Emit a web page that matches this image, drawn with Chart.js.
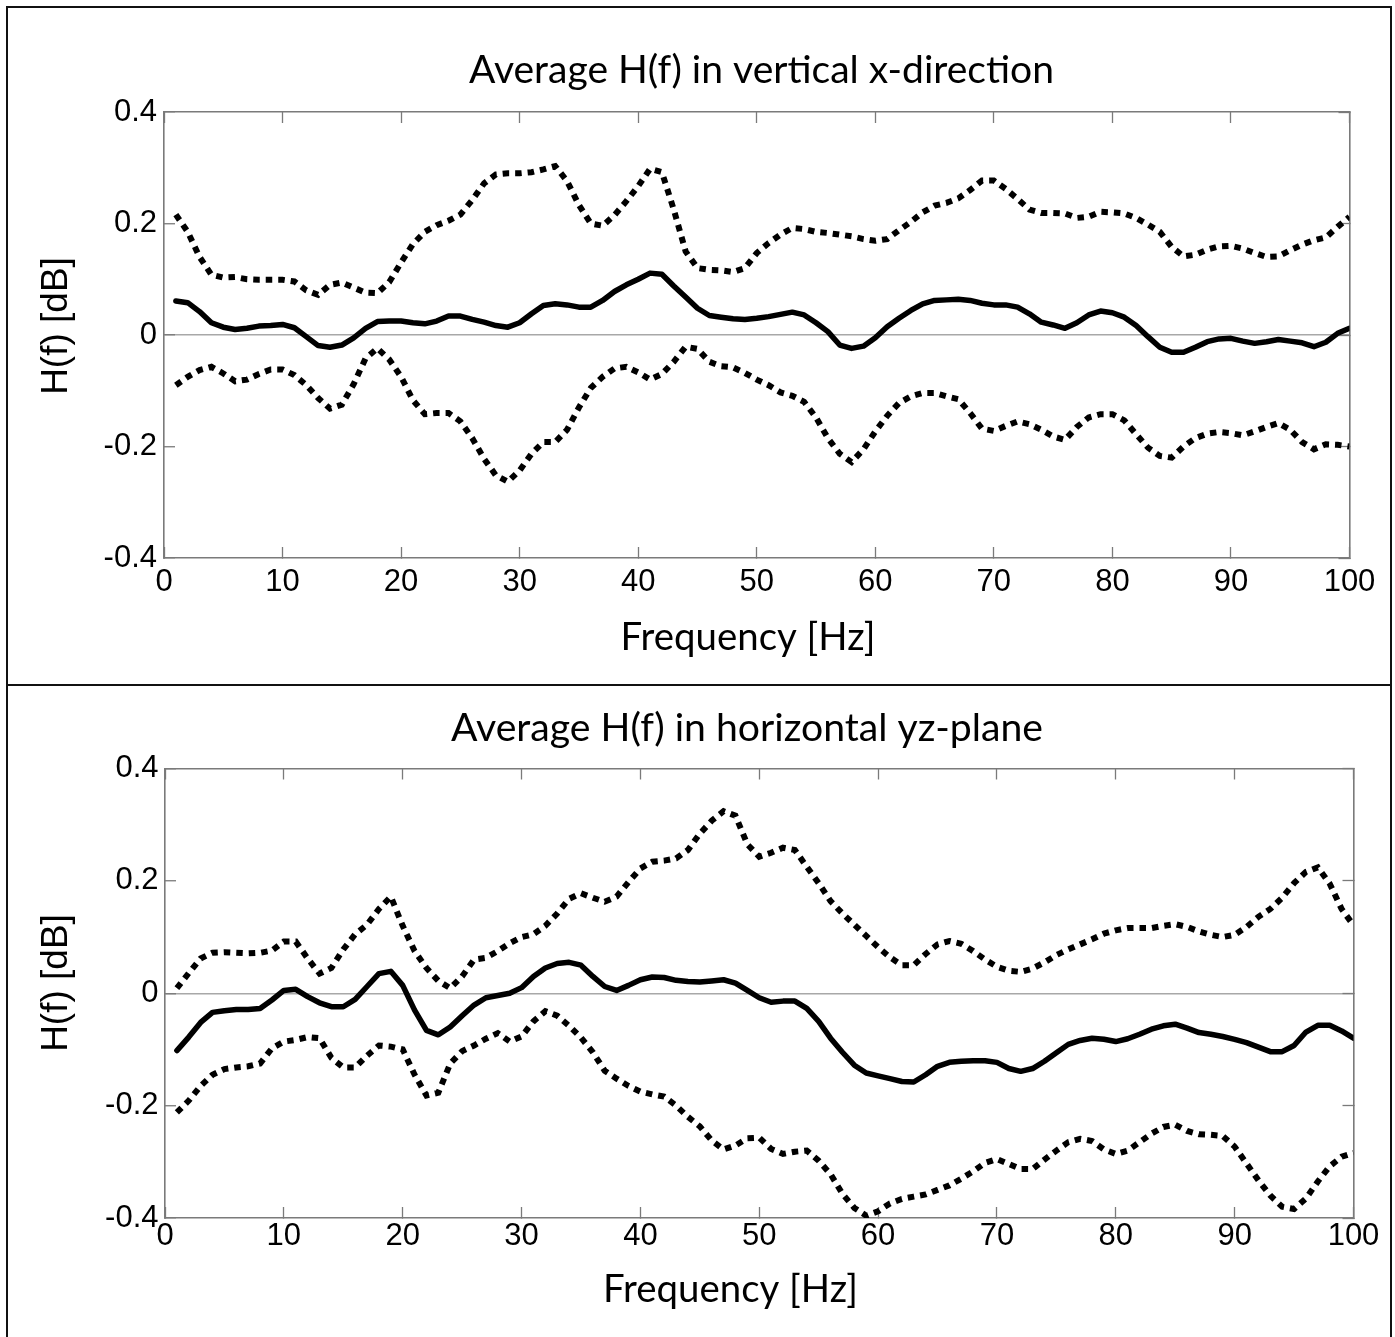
<!DOCTYPE html>
<html><head><meta charset="utf-8">
<script src="https://cdn.jsdelivr.net/npm/chart.js@4.4.1/dist/chart.umd.min.js"></script>
<style>
html,body{margin:0;padding:0;background:#fff;overflow:hidden;}
#wrap{position:relative;width:1395px;height:1337px;overflow:hidden;}
canvas{position:absolute;left:0;}
#c1{top:0}
#c2{top:685px}
.frame{position:absolute;box-sizing:border-box;border:2.5px solid #111;pointer-events:none;}
</style></head><body>
<div id="wrap">
<canvas id="c1" width="1395" height="685"></canvas>
<canvas id="c2" width="1395" height="652"></canvas>
<div class="frame" style="left:6px;top:6px;width:1386px;height:1345px;"></div>
<div style="position:absolute;left:6px;top:683.5px;width:1386px;height:2.5px;background:#111;"></div>
</div>
<script>
// ---------- data ----------
const freq = [1,2,3,4,5,6,7,8,9,10,11,12,13,14,15,16,17,18,19,20,
21,22,23,24,25,26,27,28,29,30,31,32,33,34,35,36,37,38,39,40,
41,42,43,44,45,46,47,48,49,50,51,52,53,54,55,56,57,58,59,60,
61,62,63,64,65,66,67,68,69,70,71,72,73,74,75,76,77,78,79,80,
81,82,83,84,85,86,87,88,89,90,91,92,93,94,95,96,97,98,99,100];

const vertMean = [0.061,0.058,0.042,0.022,0.014,0.010,0.012,0.016,0.017,0.019,
0.013,-0.003,-0.019,-0.022,-0.018,-0.005,0.012,0.024,0.025,0.025,
0.022,0.020,0.025,0.034,0.034,0.028,0.023,0.017,0.014,0.022,
0.038,0.053,0.056,0.054,0.050,0.050,0.062,0.078,0.090,0.100,
0.111,0.109,0.088,0.068,0.048,0.035,0.032,0.029,0.028,0.030,
0.033,0.037,0.041,0.036,0.022,0.006,-0.018,-0.024,-0.020,-0.005,
0.015,0.030,0.044,0.056,0.062,0.063,0.064,0.062,0.057,0.054,
0.054,0.050,0.038,0.023,0.018,0.012,0.022,0.036,0.043,0.040,
0.032,0.017,-0.003,-0.022,-0.031,-0.031,-0.022,-0.012,-0.007,-0.006,
-0.011,-0.015,-0.012,-0.008,-0.011,-0.014,-0.021,-0.013,0.003,0.012];

const vertUpper = [0.216,0.185,0.140,0.108,0.103,0.104,0.100,0.099,0.099,0.099,
0.096,0.080,0.072,0.090,0.094,0.085,0.076,0.075,0.095,0.130,
0.163,0.185,0.197,0.205,0.216,0.242,0.272,0.288,0.290,0.290,
0.292,0.297,0.303,0.276,0.233,0.200,0.196,0.215,0.240,0.267,
0.298,0.292,0.225,0.150,0.120,0.117,0.116,0.113,0.120,0.147,
0.165,0.180,0.192,0.190,0.185,0.183,0.180,0.177,0.172,0.169,
0.172,0.188,0.203,0.220,0.232,0.237,0.245,0.260,0.277,0.277,
0.262,0.244,0.225,0.219,0.219,0.218,0.210,0.212,0.221,0.220,
0.218,0.210,0.198,0.185,0.158,0.141,0.144,0.153,0.159,0.160,
0.155,0.147,0.140,0.141,0.152,0.162,0.170,0.175,0.194,0.212];

const vertLower = [-0.090,-0.075,-0.063,-0.057,-0.069,-0.083,-0.080,-0.070,-0.062,-0.062,
-0.072,-0.090,-0.113,-0.132,-0.125,-0.088,-0.042,-0.024,-0.044,-0.075,
-0.117,-0.142,-0.140,-0.140,-0.155,-0.185,-0.222,-0.252,-0.263,-0.243,
-0.213,-0.192,-0.192,-0.170,-0.130,-0.095,-0.075,-0.060,-0.057,-0.067,
-0.080,-0.070,-0.048,-0.021,-0.025,-0.048,-0.056,-0.058,-0.068,-0.080,
-0.090,-0.103,-0.109,-0.120,-0.148,-0.185,-0.213,-0.228,-0.205,-0.173,
-0.145,-0.122,-0.110,-0.104,-0.104,-0.110,-0.115,-0.140,-0.168,-0.172,
-0.163,-0.155,-0.160,-0.170,-0.182,-0.188,-0.165,-0.148,-0.142,-0.142,
-0.153,-0.178,-0.202,-0.217,-0.220,-0.200,-0.185,-0.177,-0.174,-0.176,
-0.180,-0.173,-0.165,-0.158,-0.170,-0.192,-0.205,-0.196,-0.197,-0.200];

const horzMean = [-0.102,-0.078,-0.052,-0.034,-0.031,-0.029,-0.029,-0.027,-0.012,0.005,
0.007,-0.006,-0.017,-0.024,-0.024,-0.011,0.012,0.035,0.039,0.014,
-0.030,-0.066,-0.074,-0.060,-0.040,-0.021,-0.008,-0.004,0.000,0.010,
0.030,0.045,0.053,0.055,0.050,0.030,0.012,0.005,0.014,0.024,
0.029,0.028,0.023,0.021,0.020,0.022,0.024,0.018,0.005,-0.008,
-0.016,-0.014,-0.014,-0.027,-0.050,-0.080,-0.105,-0.128,-0.142,-0.147,
-0.152,-0.157,-0.158,-0.145,-0.130,-0.123,-0.121,-0.120,-0.120,-0.123,
-0.134,-0.139,-0.134,-0.121,-0.106,-0.091,-0.084,-0.080,-0.082,-0.086,
-0.081,-0.073,-0.064,-0.058,-0.055,-0.062,-0.070,-0.073,-0.077,-0.082,
-0.088,-0.096,-0.104,-0.104,-0.093,-0.069,-0.057,-0.057,-0.067,-0.080];

const horzUpper = [0.009,0.036,0.062,0.072,0.073,0.072,0.071,0.072,0.076,0.092,
0.092,0.062,0.035,0.045,0.078,0.105,0.122,0.150,0.172,0.120,
0.075,0.045,0.022,0.009,0.030,0.060,0.063,0.075,0.089,0.100,
0.105,0.120,0.142,0.168,0.178,0.170,0.163,0.172,0.198,0.222,
0.234,0.236,0.240,0.255,0.284,0.307,0.324,0.316,0.265,0.243,
0.250,0.259,0.255,0.225,0.196,0.164,0.142,0.122,0.102,0.082,
0.064,0.050,0.050,0.070,0.087,0.093,0.088,0.075,0.060,0.047,
0.040,0.038,0.044,0.055,0.068,0.078,0.087,0.096,0.106,0.112,
0.116,0.116,0.116,0.120,0.123,0.118,0.110,0.104,0.100,0.104,
0.118,0.136,0.150,0.170,0.196,0.216,0.224,0.195,0.150,0.121];

const horzLower = [-0.212,-0.191,-0.165,-0.145,-0.135,-0.132,-0.130,-0.125,-0.098,-0.086,
-0.083,-0.078,-0.080,-0.115,-0.132,-0.132,-0.111,-0.093,-0.095,-0.100,
-0.145,-0.182,-0.177,-0.125,-0.103,-0.093,-0.081,-0.071,-0.086,-0.077,
-0.050,-0.032,-0.040,-0.058,-0.079,-0.105,-0.138,-0.152,-0.165,-0.175,
-0.180,-0.184,-0.200,-0.220,-0.237,-0.262,-0.278,-0.271,-0.258,-0.257,
-0.277,-0.286,-0.282,-0.280,-0.298,-0.322,-0.357,-0.382,-0.396,-0.388,
-0.374,-0.366,-0.362,-0.358,-0.350,-0.342,-0.330,-0.317,-0.302,-0.295,
-0.304,-0.313,-0.313,-0.296,-0.280,-0.265,-0.259,-0.263,-0.278,-0.286,
-0.280,-0.265,-0.250,-0.238,-0.234,-0.245,-0.251,-0.252,-0.254,-0.273,
-0.303,-0.333,-0.360,-0.380,-0.384,-0.365,-0.335,-0.308,-0.291,-0.284];

const xTickValues = [0,10,20,30,40,50,60,70,80,90,100];
const xTickLabels = ['0','10','20','30','40','50','60','70','80','90','100'];
const yTickValues = [-0.4,-0.2,0,0.2,0.4];
const yTickLabels = ['-0.4','-0.2','0','0.2','0.4'];

const panelTitles = ['Average H(f) in vertical x-direction','Average H(f) in horizontal yz-plane'];
const xAxisTitle = 'Frequency [Hz]';
const yAxisTitle = 'H(f) [dB]';

// ---------- text plugin ----------
const panelText = {
  id: 'panelText',
  afterDraw(chart, args, o) {
    const ctx = chart.ctx;
    ctx.save();
    ctx.fillStyle = '#000';
    ctx.textAlign = 'center';
    ctx.textBaseline = 'alphabetic';
    const fit = (text, family, target) => {
      ctx.font = '40px ' + family;
      const w = ctx.measureText(text).width;
      ctx.font = (40 * target / w).toFixed(2) + 'px ' + family;
    };
    fit(o.title, o.titleFamily, o.titleWidth);
    ctx.fillText(o.title, o.titleX, o.titleY);
    fit(o.xTitle, o.titleFamily, o.xTitleWidth);
    ctx.fillText(o.xTitle, o.xTitleX, o.xTitleY);
    ctx.translate(o.yTitleX, o.yTitleY);
    ctx.rotate(-Math.PI / 2);
    ctx.font = o.yTitleSize + 'px ' + o.yTitleFamily;
    ctx.fillText(o.yTitle, 0, 0);
    ctx.restore();
  }
};

const tickFont = {family: '"Liberation Sans", Arial, sans-serif', size: 31};
const axisGray = '#7a7a7a';

function pts(arr) { return freq.map((f, i) => ({x: f, y: arr[i]})); }

function datasets(mean, upper, lower) {
  const dotted = {borderColor: '#000', borderWidth: 6, borderDash: [6.5, 6], borderCapStyle: 'butt',
    borderJoinStyle: 'miter', pointRadius: 0, tension: 0, fill: false};
  return [
    Object.assign({label: 'upper', data: pts(upper)}, dotted),
    Object.assign({label: 'lower', data: pts(lower)}, dotted),
    {label: 'mean', data: pts(mean), borderColor: '#000', borderWidth: 5.5, borderJoinStyle: 'round',
      borderCapStyle: 'round', pointRadius: 0, tension: 0, fill: false}
  ];
}

function scales(b) {
  const tickGrid = {display: true, drawOnChartArea: false, drawTicks: true, tickLength: -11, tickColor: axisGray, tickWidth: 1.3};
  const border = {display: true, color: axisGray, width: 1.6};
  const setX = s => { s.ticks = xTickValues.map(v => ({value: v})); };
  const setY = s => { s.ticks = yTickValues.map(v => ({value: v})); };
  return {
    x: {type: 'linear', position: 'bottom', min: 0, max: 100, afterBuildTicks: setX,
      afterFit: s => { s.height = b.xH; },
      ticks: {font: tickFont, color: '#000', padding: b.xPad, maxRotation: 0, autoSkip: false,
        callback: (v, i) => xTickLabels[i]},
      grid: tickGrid, border: border},
    x2: {type: 'linear', position: 'top', min: 0, max: 100, afterBuildTicks: setX,
      afterFit: s => { s.height = b.x2H; },
      ticks: {display: false}, grid: tickGrid, border: border},
    y: {type: 'linear', position: 'left', min: -0.4, max: 0.4, afterBuildTicks: setY,
      afterFit: s => { s.width = b.yW; },
      ticks: {font: tickFont, color: '#000', padding: b.yPad, callback: (v, i) => yTickLabels[i]},
      grid: {display: true, drawOnChartArea: true, drawTicks: true, tickLength: -11, tickColor: axisGray, tickWidth: 1.3,
        lineWidth: 1.5, color: c => (c.tick && c.tick.value === 0) ? '#a8a8a8' : 'rgba(0,0,0,0)'},
      border: border},
    y2: {type: 'linear', position: 'right', min: -0.4, max: 0.4, afterBuildTicks: setY,
      afterFit: s => { s.width = b.y2W; },
      ticks: {display: false}, grid: tickGrid, border: border}
  };
}

function makeChart(id, mean, upper, lower, b, text) {
  return new Chart(document.getElementById(id), {
    type: 'line',
    data: {datasets: datasets(mean, upper, lower)},
    options: {
      responsive: false, animation: false, devicePixelRatio: 1, events: [],
      layout: {padding: 0},
      plugins: {legend: {display: false}, tooltip: {enabled: false}, title: {display: false}, panelText: text},
      scales: scales(b)
    },
    plugins: [panelText]
  });
}

const titleFamily = 'Lato, "Open Sans", sans-serif';
const yFamily = '"Liberation Sans", Arial, sans-serif';

makeChart('c1', vertMean, vertUpper, vertLower,
  {xH: 127, x2H: 112, yW: 164, y2W: 45.5, xPad: 16.7, yPad: 18},
  {title: panelTitles[0], titleFamily: titleFamily, titleWidth: 585, titleX: 761.5, titleY: 83,
   xTitle: xAxisTitle, xTitleWidth: 255, xTitleX: 748, xTitleY: 649.5,
   yTitle: yAxisTitle, yTitleFamily: yFamily, yTitleSize: 37, yTitleX: 67, yTitleY: 326});

makeChart('c2', horzMean, horzUpper, horzLower,
  {xH: 119, x2H: 83.5, yW: 165, y2W: 41.5, xPad: 10.7, yPad: 17.5},
  {title: panelTitles[1], titleFamily: titleFamily, titleWidth: 592, titleX: 747, titleY: 56,
   xTitle: xAxisTitle, xTitleWidth: 255, xTitleX: 730.5, xTitleY: 616.5,
   yTitle: yAxisTitle, yTitleFamily: yFamily, yTitleSize: 37, yTitleX: 67, yTitleY: 298});
</script>
</body></html>
